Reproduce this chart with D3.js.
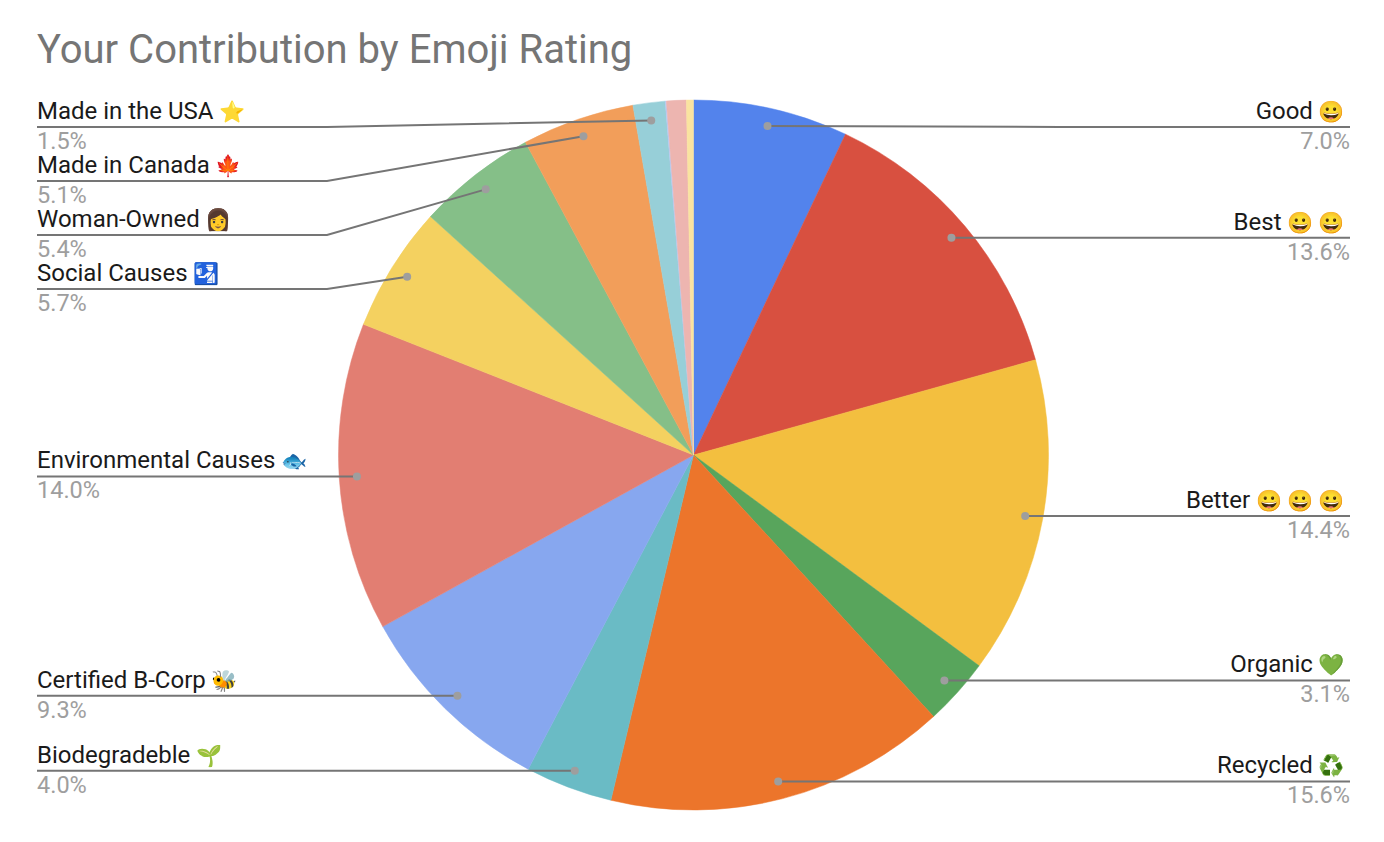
<!DOCTYPE html>
<html>
<head>
<meta charset="utf-8">
<script src="https://cdnjs.cloudflare.com/ajax/libs/d3/7.8.5/d3.min.js"></script>
<style>
    body { margin: 0; background: #fff; }
    text { font-family: Roboto, "Noto Color Emoji", sans-serif; }
</style>
</head>
<body>
<svg id="chart" width="1384" height="842"></svg>
<script>
var title = "Your Contribution by Emoji Rating";

// clockwise from 12 o'clock, the last three slices have no label in the chart
var categories = ["Good", "Best", "Better", "Organic", "Recycled", "Biodegradeble",
    "Certified B-Corp", "Environmental Causes", "Social Causes", "Woman-Owned", "Made in Canada",
    "Made in the USA", "", "", ""];
var emojis = ["😀", "😀 😀", "😀 😀 😀", "💚", "♻️", "🌱", "🐝", "🐟", "🛂", "👩", "🍁", "⭐", "", "", ""];
var shares = [7.04, 13.64, 14.44, 3.06, 15.56, 3.97, 9.26, 14.03, 5.72, 5.43, 5.12, 1.46, 0.05, 0.9, 0.32];
var colors = ["#5383ec", "#d85040", "#f3bf3f", "#58a55c", "#ec752b", "#6abbc5", "#87a7ef", "#e27e72",
    "#f4d160", "#85bf88", "#f29e5a", "#97cfd8", "#b9c9f3", "#edb5b0", "#fae3a0"];

var cx = 693.5, cy = 455, radius = 355;
var leftX = 37, rightX = 1350, elbowLeft = 327, elbowRight = 1060;
var rowGap = 54, topRow = 127;

var svg = d3.select("#chart");

svg.append("text")
    .attr("x", 37)
    .attr("y", 63)
    .attr("font-size", 40)
    .attr("fill", "#757575")
    .text(title);

var pie = d3.pie().sort(null).value(d => d.share);
var arc = d3.arc().innerRadius(0).outerRadius(radius);
var dotArc = d3.arc().innerRadius(radius * 0.95).outerRadius(radius * 0.95);

var slices = pie(shares.map((share, i) => ({
    name: categories[i],
    emoji: emojis[i],
    share: share,
    color: colors[i]
})));

var g = svg.append("g").attr("transform", "translate(" + cx + "," + cy + ")");

g.selectAll("path.slice")
    .data(slices)
    .enter()
    .append("path")
    .attr("class", "slice")
    .attr("d", arc)
    .attr("fill", d => d.data.color)
    .attr("stroke", d => d.data.color)
    .attr("stroke-width", 0.5);

// work out leader lines, labels get pushed down when they would collide
var labelled = slices.filter(d => d.data.name);
labelled.forEach(function(d) {
    var c = dotArc.centroid(d);
    d.dotX = cx + c[0];
    d.dotY = cy + c[1];
    d.isRight = c[0] > 0;
});

[true, false].forEach(function(side) {
    var last = topRow - rowGap;
    labelled
        .filter(d => d.isRight === side)
        .sort((a, b) => a.dotY - b.dotY)
        .forEach(function(d) {
            d.rowY = Math.max(d.dotY, last + rowGap);
            last = d.rowY;
        });
});

var line = d3.line();

var leaders = svg.append("g");
leaders.selectAll("path")
    .data(labelled)
    .enter()
    .append("path")
    .attr("fill", "none")
    .attr("stroke", "#757575")
    .attr("stroke-width", 2)
    .attr("d", function(d) {
        var end = d.isRight ? rightX : leftX;
        var elbow = d.isRight ? elbowRight : elbowLeft;
        return line([[d.dotX, d.dotY], [elbow, d.rowY], [end, d.rowY]]);
    });

leaders.selectAll("circle")
    .data(labelled)
    .enter()
    .append("circle")
    .attr("cx", d => d.dotX)
    .attr("cy", d => d.dotY)
    .attr("r", 4)
    .attr("fill", "#9e9e9e");

var labels = svg.append("g");
var names = labels.selectAll("text.name")
    .data(labelled)
    .enter()
    .append("text")
    .attr("class", "name")
    .attr("x", d => d.isRight ? rightX - 5 : leftX)
    .attr("y", d => d.rowY - 8)
    .attr("text-anchor", d => d.isRight ? "end" : "start")
    .attr("font-size", 24)
    .attr("fill", "#1a1a1a");

names.append("tspan").text(d => d.data.name + " ");
names.append("tspan").attr("font-size", 21).text(d => d.data.emoji);

labels.selectAll("text.share")
    .data(labelled)
    .enter()
    .append("text")
    .attr("class", "share")
    .attr("x", d => d.isRight ? rightX : leftX)
    .attr("y", d => d.rowY + 22)
    .attr("text-anchor", d => d.isRight ? "end" : "start")
    .attr("font-size", 23.5)
    .attr("fill", "#9e9e9e")
    .text(d => d3.format(".1f")(d.data.share) + "%");
</script>
</body>
</html>
